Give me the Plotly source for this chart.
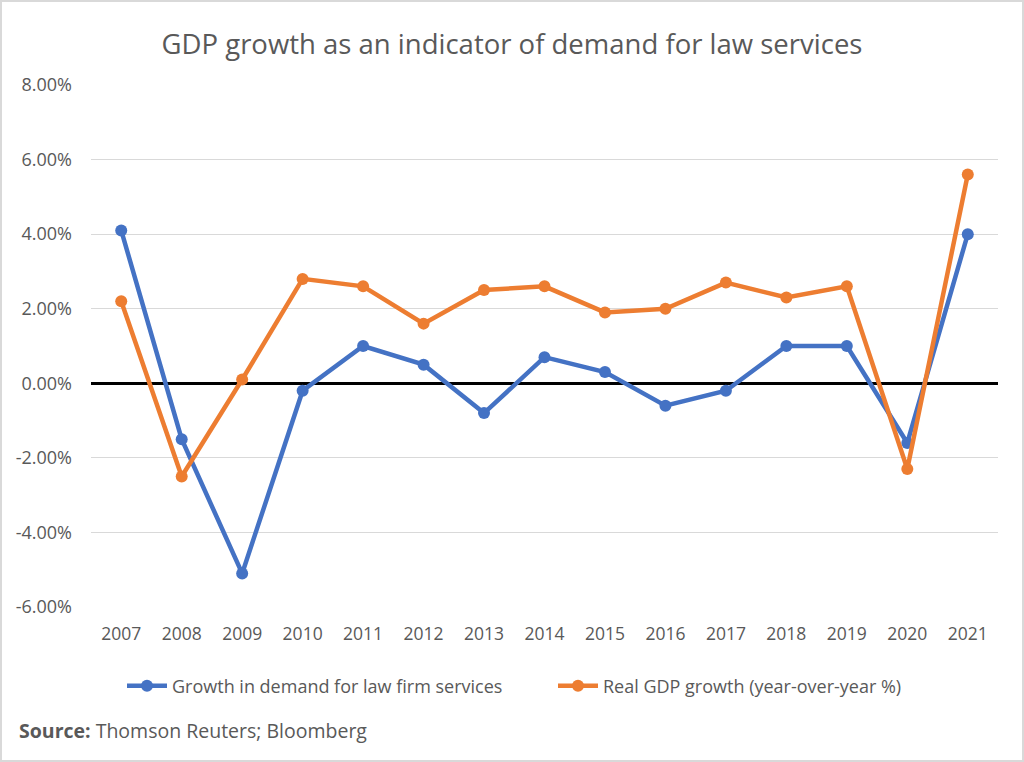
import plotly.graph_objects as go

years = ["2007", "2008", "2009", "2010", "2011", "2012", "2013", "2014",
         "2015", "2016", "2017", "2018", "2019", "2020", "2021"]
law_demand = [4.1, -1.5, -5.1, -0.2, 1.0, 0.5, -0.8, 0.7, 0.3, -0.6, -0.2, 1.0, 1.0, -1.6, 4.0]
real_gdp = [2.2, -2.5, 0.1, 2.8, 2.6, 1.6, 2.5, 2.6, 1.9, 2.0, 2.7, 2.3, 2.6, -2.3, 5.6]
y_tick_vals = [-6, -4, -2, 0, 2, 4, 6, 8]
y_tick_text = ["-6.00%", "-4.00%", "-2.00%", "0.00%", "2.00%", "4.00%", "6.00%", "8.00%"]

FONT = "Open Sans, sans-serif"
GRAY = "#595959"

W, H = 1024, 762
L, R, T, B = 91, 26, 85, 155
PW, PH = W - L - R, H - T - B

def px_x(p):
    return (p - L) / PW

def px_y(p):
    return (H - B - p) / PH

fig = go.Figure()
fig.add_trace(go.Scatter(
    x=years, y=law_demand, mode="lines+markers",
    name="Growth in demand for law firm services",
    line=dict(color="#4472C4", width=4.5),
    marker=dict(color="#4472C4", size=12),
    legend="legend",
))
fig.add_trace(go.Scatter(
    x=years, y=real_gdp, mode="lines+markers",
    name="Real GDP growth (year-over-year %)",
    line=dict(color="#ED7D31", width=4.5),
    marker=dict(color="#ED7D31", size=12),
    legend="legend2",
))

legend_common = dict(orientation="h", xref="container", yref="container",
                     xanchor="left", y=1 - 686 / H, yanchor="middle",
                     font=dict(size=18, color=GRAY), itemwidth=40,
                     bgcolor="rgba(0,0,0,0)")

fig.update_layout(
    width=W, height=H,
    margin=dict(l=L, r=R, t=T, b=B),
    paper_bgcolor="white", plot_bgcolor="white",
    font=dict(family=FONT, color=GRAY, size=16),
    title=dict(text="GDP growth as an indicator of demand for law services",
               x=0.5, xref="container", xanchor="center",
               y=1 - 44 / H, yref="container", yanchor="middle",
               font=dict(size=27.5, color=GRAY, family=FONT)),
    xaxis=dict(type="category", range=[-0.5, 14.5], showgrid=False,
               showline=False, ticks="", ticklabelstandoff=14,
               tickfont=dict(size=17.5, color=GRAY), fixedrange=True),
    yaxis=dict(range=[-6, 8], tickvals=y_tick_vals, ticktext=y_tick_text,
               showgrid=True, gridcolor="#d9d9d9", gridwidth=1,
               zeroline=True, zerolinecolor="black", zerolinewidth=2.5,
               showline=False, ticks="", ticklabelstandoff=18,
               tickfont=dict(size=18, color=GRAY)),
    legend=dict(x=122 / W, **legend_common),
    legend2=dict(x=553 / W, **legend_common),
    showlegend=True,
)

fig.add_annotation(
    text="<b>Source:</b> Thomson Reuters; Bloomberg",
    xref="paper", yref="paper", x=px_x(17), y=px_y(730),
    xanchor="left", yanchor="middle", showarrow=False,
    font=dict(size=19.5, color=GRAY, family=FONT),
)

fig.add_shape(
    type="rect", xref="paper", yref="paper",
    x0=px_x(1), x1=px_x(1023), y0=px_y(761), y1=px_y(1),
    line=dict(color="#d9d9d9", width=2), layer="below",
)

fig.write_html("out.html")
